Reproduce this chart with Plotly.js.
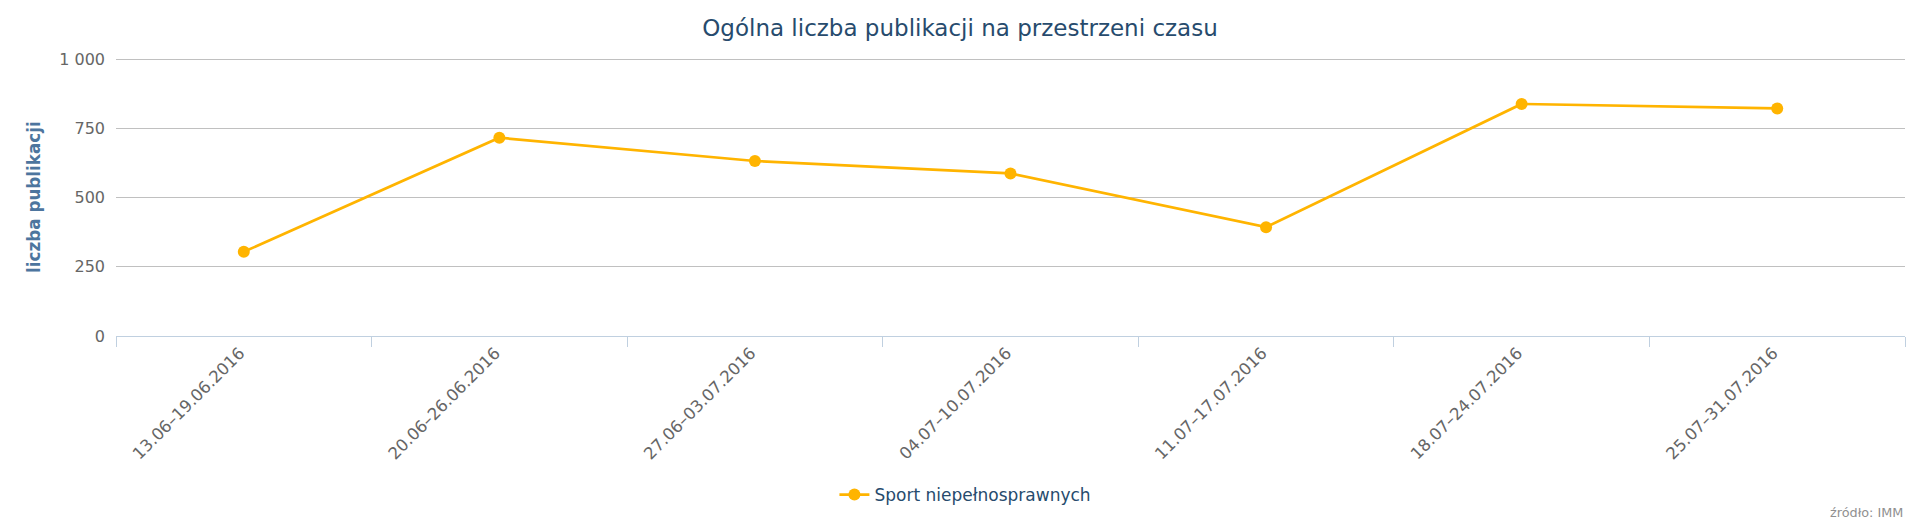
<!DOCTYPE html>
<html>
<head>
<meta charset="utf-8">
<script src="https://cdn.plot.ly/plotly-3.0.1.min.js"></script>
<style>
html,body{margin:0;padding:0;background:#fff;}
#chart{width:1920px;height:525px;}
</style>
</head>
<body>
<div id="chart"></div>
<script>
var categories = ["13.06–19.06.2016","20.06–26.06.2016","27.06–03.07.2016","04.07–10.07.2016","11.07–17.07.2016","18.07–24.07.2016","25.07–31.07.2016"];
var seriesName = "Sport niepełnosprawnych";
var values = [304, 716, 632, 587, 393, 838, 822];
var yTickVals = [0, 250, 500, 750, 1000];
var chartTitle = "Ogólna liczba publikacji na przestrzeni czasu";
var yTitle = "liczba publikacji";
var creditText = "źródło: IMM";

var FONT = "DejaVu Sans, sans-serif";
var trace = {
  x: categories,
  y: values,
  name: seriesName,
  type: "scatter",
  mode: "lines+markers",
  line: {color: "#FFB400", width: 2.7},
  marker: {color: "#FFB400", size: 12},
  hoverinfo: "x+y"
};
var layout = {
  width: 1920, height: 525,
  margin: {l: 116, r: 15, t: 58, b: 189},
  paper_bgcolor: "#fff", plot_bgcolor: "#fff",
  separators: ", ",
  font: {family: FONT, color: "#666666"},
  title: {text: chartTitle, x: 0.5, xanchor: "center", xref: "container", y: 1 - 28/525, yref: "container", yanchor: "middle",
          font: {family: FONT, size: 23, color: "#274b6d"}},
  xaxis: {
    type: "category",
    tickson: "boundaries",
    ticks: "outside", ticklen: 10, tickwidth: 1, tickcolor: "#C0D0E0",
    showline: true, linecolor: "#C0D0E0", linewidth: 1,
    showgrid: false, zeroline: false,
    tickangle: -45,
    ticklabelshift: -4,
    tickfont: {family: FONT, size: 16.5, color: "#666666"},
    range: [-0.5, 6.5], fixedrange: true
  },
  yaxis: {
    range: [0, 1004], tickvals: yTickVals, separatethousands: true,
    showgrid: true, gridcolor: "#C0C0C0", gridwidth: 1,
    zeroline: false, showline: false, ticks: "",
    ticklabelstandoff: 10,
    tickfont: {family: FONT, size: 16, color: "#666666"},
    fixedrange: true
  },
  showlegend: true,
  legend: {orientation: "h", x: 0.4748, xanchor: "center", y: (336-495)/278, yanchor: "middle",
           font: {family: FONT, size: 17, color: "#274b6d"}, bgcolor: "rgba(0,0,0,0)"},
  annotations: [
    {text: yTitle, xref: "paper", yref: "paper", x: 0, y: 0.5, xshift: -82, xanchor: "center", yanchor: "middle",
     textangle: -90, showarrow: false, font: {family: FONT, size: 16.8, color: "#4d759e", weight: "bold"}},
    {text: creditText, xref: "paper", yref: "paper", x: 1, y: (336-512)/278, xanchor: "right", yanchor: "middle",
     showarrow: false, font: {family: FONT, size: 12.8, color: "#909090"}}
  ]
};
Plotly.newPlot("chart", [trace], layout, {displayModeBar: false});
</script>
</body>
</html>
